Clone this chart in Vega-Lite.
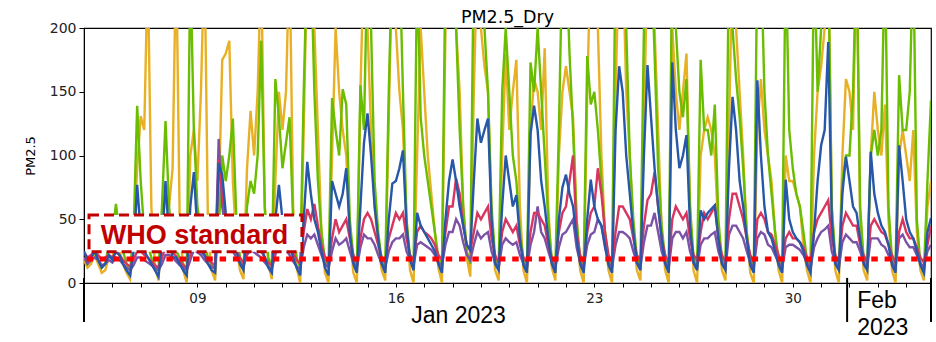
{
"$schema":"https://vega.github.io/schema/vega-lite/v6.json",
"width":847,"height":255,
"autosize":{"type":"none"},
"padding":{"left":84,"top":28,"right":5,"bottom":59},
"background":"white",
"config":{"view":{"stroke":"#000","strokeWidth":1.2}},
"title":{"text":"PM2.5_Dry","font":"DejaVu Sans","fontSize":17.5,"fontWeight":"normal","color":"#000","anchor":"middle","offset":6,"dy":11},
"datasets":{"pm":[
{"t":"2023-01-05T00:00","s1":18,"s2":20,"s3":20,"s4":24,"s5":25},
{"t":"2023-01-05T03:00","s1":12,"s2":15,"s3":15,"s4":20,"s5":18},
{"t":"2023-01-05T06:00","s1":15,"s2":18,"s3":18,"s4":22,"s5":20},
{"t":"2023-01-05T09:00","s1":22,"s2":25,"s3":20,"s4":25,"s5":25},
{"t":"2023-01-05T12:00","s1":15,"s2":18,"s3":18,"s4":22,"s5":18},
{"t":"2023-01-05T15:00","s1":8,"s2":12,"s3":14,"s4":18,"s5":12},
{"t":"2023-01-05T18:00","s1":10,"s2":15,"s3":15,"s4":20,"s5":15},
{"t":"2023-01-05T21:00","s1":20,"s2":30,"s3":18,"s4":22,"s5":22},
{"t":"2023-01-06T00:00","s1":20,"s2":35,"s3":16,"s4":20,"s5":18},
{"t":"2023-01-06T03:00","s1":30,"s2":62,"s3":20,"s4":24,"s5":25},
{"t":"2023-01-06T06:00","s1":25,"s2":40,"s3":18,"s4":22,"s5":22},
{"t":"2023-01-06T09:00","s1":15,"s2":25,"s3":15,"s4":18,"s5":15},
{"t":"2023-01-06T12:00","s1":8,"s2":15,"s3":12,"s4":15,"s5":10},
{"t":"2023-01-06T15:00","s1":3,"s2":10,"s3":10,"s4":13,"s5":6},
{"t":"2023-01-06T18:00","s1":30,"s2":40,"s3":14,"s4":18,"s5":25},
{"t":"2023-01-06T21:00","s1":90,"s2":139,"s3":20,"s4":25,"s5":77},
{"t":"2023-01-07T00:00","s1":131,"s2":80,"s3":20,"s4":25,"s5":40},
{"t":"2023-01-07T03:00","s1":120,"s2":40,"s3":18,"s4":22,"s5":25},
{"t":"2023-01-07T06:00","s1":250,"s2":30,"s3":16,"s4":20,"s5":20},
{"t":"2023-01-07T09:00","s1":60,"s2":20,"s3":14,"s4":17,"s5":15},
{"t":"2023-01-07T12:00","s1":15,"s2":12,"s3":12,"s4":14,"s5":10},
{"t":"2023-01-07T15:00","s1":2,"s2":10,"s3":10,"s4":12,"s5":5},
{"t":"2023-01-07T18:00","s1":40,"s2":60,"s3":15,"s4":20,"s5":30},
{"t":"2023-01-07T21:00","s1":70,"s2":127,"s3":22,"s4":28,"s5":80},
{"t":"2023-01-08T00:00","s1":60,"s2":60,"s3":22,"s4":27,"s5":35},
{"t":"2023-01-08T03:00","s1":90,"s2":30,"s3":20,"s4":24,"s5":20},
{"t":"2023-01-08T06:00","s1":260,"s2":25,"s3":17,"s4":21,"s5":20},
{"t":"2023-01-08T09:00","s1":50,"s2":20,"s3":14,"s4":17,"s5":15},
{"t":"2023-01-08T12:00","s1":10,"s2":15,"s3":12,"s4":14,"s5":10},
{"t":"2023-01-08T15:00","s1":0,"s2":10,"s3":10,"s4":12,"s5":6},
{"t":"2023-01-08T18:00","s1":100,"s2":250,"s3":18,"s4":22,"s5":60},
{"t":"2023-01-08T21:00","s1":120,"s2":120,"s3":26,"s4":32,"s5":87},
{"t":"2023-01-09T00:00","s1":80,"s2":60,"s3":24,"s4":30,"s5":40},
{"t":"2023-01-09T03:00","s1":150,"s2":40,"s3":22,"s4":26,"s5":25},
{"t":"2023-01-09T06:00","s1":260,"s2":30,"s3":18,"s4":22,"s5":22},
{"t":"2023-01-09T09:00","s1":40,"s2":20,"s3":15,"s4":18,"s5":15},
{"t":"2023-01-09T12:00","s1":10,"s2":15,"s3":13,"s4":16,"s5":10},
{"t":"2023-01-09T15:00","s1":2,"s2":12,"s3":11,"s4":14,"s5":8},
{"t":"2023-01-09T18:00","s1":60,"s2":40,"s3":113,"s4":97,"s5":94},
{"t":"2023-01-09T21:00","s1":175,"s2":100,"s3":60,"s4":70,"s5":85},
{"t":"2023-01-10T00:00","s1":180,"s2":80,"s3":40,"s4":50,"s5":55},
{"t":"2023-01-10T03:00","s1":190,"s2":100,"s3":30,"s4":40,"s5":40},
{"t":"2023-01-10T06:00","s1":80,"s2":129,"s3":25,"s4":32,"s5":35},
{"t":"2023-01-10T09:00","s1":30,"s2":50,"s3":20,"s4":25,"s5":25},
{"t":"2023-01-10T12:00","s1":10,"s2":20,"s3":16,"s4":20,"s5":15},
{"t":"2023-01-10T15:00","s1":3,"s2":12,"s3":13,"s4":16,"s5":10},
{"t":"2023-01-10T18:00","s1":90,"s2":60,"s3":22,"s4":26,"s5":40},
{"t":"2023-01-10T21:00","s1":135,"s2":80,"s3":26,"s4":32,"s5":50},
{"t":"2023-01-11T00:00","s1":100,"s2":70,"s3":24,"s4":30,"s5":40},
{"t":"2023-01-11T03:00","s1":150,"s2":100,"s3":22,"s4":27,"s5":30},
{"t":"2023-01-11T06:00","s1":250,"s2":190,"s3":20,"s4":25,"s5":28},
{"t":"2023-01-11T09:00","s1":60,"s2":60,"s3":16,"s4":20,"s5":20},
{"t":"2023-01-11T12:00","s1":15,"s2":20,"s3":13,"s4":16,"s5":12},
{"t":"2023-01-11T15:00","s1":3,"s2":12,"s3":11,"s4":14,"s5":8},
{"t":"2023-01-11T18:00","s1":80,"s2":160,"s3":22,"s4":30,"s5":50},
{"t":"2023-01-11T21:00","s1":150,"s2":130,"s3":30,"s4":40,"s5":77},
{"t":"2023-01-12T00:00","s1":120,"s2":90,"s3":28,"s4":38,"s5":50},
{"t":"2023-01-12T03:00","s1":150,"s2":110,"s3":26,"s4":34,"s5":35},
{"t":"2023-01-12T06:00","s1":260,"s2":130,"s3":22,"s4":30,"s5":30},
{"t":"2023-01-12T09:00","s1":60,"s2":50,"s3":17,"s4":24,"s5":20},
{"t":"2023-01-12T12:00","s1":12,"s2":20,"s3":13,"s4":18,"s5":12},
{"t":"2023-01-12T15:00","s1":0,"s2":12,"s3":11,"s4":15,"s5":6},
{"t":"2023-01-12T18:00","s1":120,"s2":150,"s3":28,"s4":40,"s5":50},
{"t":"2023-01-12T21:00","s1":260,"s2":260,"s3":38,"s4":58,"s5":95},
{"t":"2023-01-13T00:00","s1":260,"s2":260,"s3":35,"s4":50,"s5":70},
{"t":"2023-01-13T03:00","s1":200,"s2":150,"s3":38,"s4":62,"s5":50},
{"t":"2023-01-13T06:00","s1":120,"s2":80,"s3":30,"s4":45,"s5":40},
{"t":"2023-01-13T09:00","s1":40,"s2":40,"s3":22,"s4":30,"s5":25},
{"t":"2023-01-13T12:00","s1":8,"s2":18,"s3":15,"s4":20,"s5":12},
{"t":"2023-01-13T15:00","s1":0,"s2":12,"s3":12,"s4":15,"s5":6},
{"t":"2023-01-13T18:00","s1":100,"s2":145,"s3":25,"s4":35,"s5":80},
{"t":"2023-01-13T21:00","s1":200,"s2":120,"s3":35,"s4":50,"s5":70},
{"t":"2023-01-14T00:00","s1":150,"s2":100,"s3":30,"s4":40,"s5":60},
{"t":"2023-01-14T03:00","s1":120,"s2":152,"s3":32,"s4":45,"s5":70},
{"t":"2023-01-14T06:00","s1":100,"s2":140,"s3":35,"s4":50,"s5":90},
{"t":"2023-01-14T09:00","s1":40,"s2":50,"s3":25,"s4":35,"s5":40},
{"t":"2023-01-14T12:00","s1":8,"s2":20,"s3":16,"s4":22,"s5":15},
{"t":"2023-01-14T15:00","s1":0,"s2":12,"s3":12,"s4":16,"s5":8},
{"t":"2023-01-14T18:00","s1":150,"s2":155,"s3":28,"s4":35,"s5":60},
{"t":"2023-01-14T21:00","s1":260,"s2":120,"s3":38,"s4":50,"s5":110},
{"t":"2023-01-15T00:00","s1":200,"s2":260,"s3":35,"s4":55,"s5":133},
{"t":"2023-01-15T03:00","s1":120,"s2":200,"s3":35,"s4":50,"s5":100},
{"t":"2023-01-15T06:00","s1":60,"s2":80,"s3":30,"s4":40,"s5":60},
{"t":"2023-01-15T09:00","s1":30,"s2":40,"s3":22,"s4":30,"s5":35},
{"t":"2023-01-15T12:00","s1":10,"s2":18,"s3":15,"s4":20,"s5":15},
{"t":"2023-01-15T15:00","s1":2,"s2":12,"s3":12,"s4":16,"s5":8},
{"t":"2023-01-15T18:00","s1":130,"s2":150,"s3":25,"s4":35,"s5":50},
{"t":"2023-01-15T21:00","s1":260,"s2":260,"s3":32,"s4":45,"s5":78},
{"t":"2023-01-16T00:00","s1":200,"s2":260,"s3":35,"s4":55,"s5":80},
{"t":"2023-01-16T03:00","s1":150,"s2":260,"s3":35,"s4":50,"s5":90},
{"t":"2023-01-16T06:00","s1":120,"s2":150,"s3":38,"s4":55,"s5":104},
{"t":"2023-01-16T09:00","s1":50,"s2":50,"s3":25,"s4":35,"s5":45},
{"t":"2023-01-16T12:00","s1":10,"s2":20,"s3":18,"s4":22,"s5":18},
{"t":"2023-01-16T15:00","s1":0,"s2":12,"s3":14,"s4":18,"s5":10},
{"t":"2023-01-16T18:00","s1":100,"s2":250,"s3":30,"s4":40,"s5":55},
{"t":"2023-01-16T21:00","s1":200,"s2":130,"s3":32,"s4":45,"s5":45},
{"t":"2023-01-17T00:00","s1":150,"s2":100,"s3":30,"s4":40,"s5":40},
{"t":"2023-01-17T03:00","s1":100,"s2":80,"s3":28,"s4":38,"s5":35},
{"t":"2023-01-17T06:00","s1":70,"s2":60,"s3":26,"s4":35,"s5":30},
{"t":"2023-01-17T09:00","s1":40,"s2":40,"s3":22,"s4":30,"s5":25},
{"t":"2023-01-17T12:00","s1":12,"s2":20,"s3":16,"s4":22,"s5":15},
{"t":"2023-01-17T15:00","s1":0,"s2":12,"s3":14,"s4":18,"s5":8},
{"t":"2023-01-17T18:00","s1":200,"s2":250,"s3":30,"s4":40,"s5":50},
{"t":"2023-01-17T21:00","s1":260,"s2":260,"s3":40,"s4":60,"s5":80},
{"t":"2023-01-18T00:00","s1":260,"s2":260,"s3":40,"s4":60,"s5":97},
{"t":"2023-01-18T03:00","s1":200,"s2":200,"s3":50,"s4":82,"s5":80},
{"t":"2023-01-18T06:00","s1":150,"s2":120,"s3":45,"s4":70,"s5":60},
{"t":"2023-01-18T09:00","s1":60,"s2":60,"s3":32,"s4":45,"s5":45},
{"t":"2023-01-18T12:00","s1":20,"s2":25,"s3":22,"s4":30,"s5":30},
{"t":"2023-01-18T15:00","s1":5,"s2":15,"s3":18,"s4":25,"s5":26},
{"t":"2023-01-18T18:00","s1":150,"s2":260,"s3":30,"s4":40,"s5":80},
{"t":"2023-01-18T21:00","s1":260,"s2":260,"s3":40,"s4":55,"s5":129},
{"t":"2023-01-19T00:00","s1":200,"s2":260,"s3":35,"s4":50,"s5":110},
{"t":"2023-01-19T03:00","s1":170,"s2":200,"s3":38,"s4":55,"s5":120},
{"t":"2023-01-19T06:00","s1":150,"s2":150,"s3":40,"s4":60,"s5":129},
{"t":"2023-01-19T09:00","s1":50,"s2":60,"s3":25,"s4":35,"s5":50},
{"t":"2023-01-19T12:00","s1":10,"s2":20,"s3":16,"s4":22,"s5":15},
{"t":"2023-01-19T15:00","s1":2,"s2":12,"s3":12,"s4":16,"s5":10},
{"t":"2023-01-19T18:00","s1":100,"s2":150,"s3":30,"s4":40,"s5":60},
{"t":"2023-01-19T21:00","s1":180,"s2":200,"s3":35,"s4":50,"s5":100},
{"t":"2023-01-20T00:00","s1":120,"s2":150,"s3":32,"s4":45,"s5":80},
{"t":"2023-01-20T03:00","s1":150,"s2":100,"s3":30,"s4":40,"s5":60},
{"t":"2023-01-20T06:00","s1":175,"s2":80,"s3":32,"s4":45,"s5":69},
{"t":"2023-01-20T09:00","s1":60,"s2":40,"s3":22,"s4":30,"s5":35},
{"t":"2023-01-20T12:00","s1":10,"s2":18,"s3":15,"s4":20,"s5":14},
{"t":"2023-01-20T15:00","s1":0,"s2":12,"s3":12,"s4":16,"s5":8},
{"t":"2023-01-20T18:00","s1":120,"s2":173,"s3":30,"s4":40,"s5":117},
{"t":"2023-01-20T21:00","s1":160,"s2":150,"s3":40,"s4":55,"s5":139},
{"t":"2023-01-21T00:00","s1":150,"s2":200,"s3":60,"s4":55,"s5":120},
{"t":"2023-01-21T03:00","s1":120,"s2":150,"s3":40,"s4":50,"s5":80},
{"t":"2023-01-21T06:00","s1":184,"s2":100,"s3":35,"s4":45,"s5":60},
{"t":"2023-01-21T09:00","s1":60,"s2":50,"s3":25,"s4":30,"s5":35},
{"t":"2023-01-21T12:00","s1":12,"s2":18,"s3":16,"s4":20,"s5":15},
{"t":"2023-01-21T15:00","s1":2,"s2":12,"s3":12,"s4":16,"s5":8},
{"t":"2023-01-21T18:00","s1":100,"s2":120,"s3":28,"s4":40,"s5":50},
{"t":"2023-01-21T21:00","s1":150,"s2":260,"s3":38,"s4":55,"s5":75},
{"t":"2023-01-22T00:00","s1":170,"s2":260,"s3":40,"s4":60,"s5":85},
{"t":"2023-01-22T03:00","s1":150,"s2":180,"s3":45,"s4":80,"s5":70},
{"t":"2023-01-22T06:00","s1":130,"s2":120,"s3":50,"s4":100,"s5":60},
{"t":"2023-01-22T09:00","s1":50,"s2":50,"s3":28,"s4":40,"s5":35},
{"t":"2023-01-22T12:00","s1":10,"s2":18,"s3":16,"s4":22,"s5":15},
{"t":"2023-01-22T15:00","s1":0,"s2":12,"s3":12,"s4":16,"s5":8},
{"t":"2023-01-22T18:00","s1":150,"s2":178,"s3":30,"s4":40,"s5":50},
{"t":"2023-01-22T21:00","s1":260,"s2":140,"s3":38,"s4":55,"s5":81},
{"t":"2023-01-23T00:00","s1":260,"s2":150,"s3":40,"s4":60,"s5":60},
{"t":"2023-01-23T03:00","s1":200,"s2":120,"s3":50,"s4":90,"s5":50},
{"t":"2023-01-23T06:00","s1":100,"s2":80,"s3":45,"s4":70,"s5":45},
{"t":"2023-01-23T09:00","s1":40,"s2":40,"s3":28,"s4":40,"s5":30},
{"t":"2023-01-23T12:00","s1":10,"s2":18,"s3":16,"s4":22,"s5":14},
{"t":"2023-01-23T15:00","s1":0,"s2":12,"s3":12,"s4":16,"s5":8},
{"t":"2023-01-23T18:00","s1":150,"s2":260,"s3":30,"s4":40,"s5":120},
{"t":"2023-01-23T21:00","s1":260,"s2":260,"s3":40,"s4":60,"s5":170},
{"t":"2023-01-24T00:00","s1":260,"s2":260,"s3":40,"s4":60,"s5":150},
{"t":"2023-01-24T03:00","s1":150,"s2":200,"s3":38,"s4":55,"s5":100},
{"t":"2023-01-24T06:00","s1":100,"s2":100,"s3":35,"s4":50,"s5":70},
{"t":"2023-01-24T09:00","s1":40,"s2":50,"s3":25,"s4":35,"s5":40},
{"t":"2023-01-24T12:00","s1":10,"s2":20,"s3":16,"s4":22,"s5":16},
{"t":"2023-01-24T15:00","s1":2,"s2":12,"s3":12,"s4":18,"s5":10},
{"t":"2023-01-24T18:00","s1":120,"s2":200,"s3":32,"s4":45,"s5":100},
{"t":"2023-01-24T21:00","s1":260,"s2":260,"s3":45,"s4":65,"s5":171},
{"t":"2023-01-25T00:00","s1":260,"s2":260,"s3":45,"s4":70,"s5":130},
{"t":"2023-01-25T03:00","s1":200,"s2":180,"s3":55,"s4":87,"s5":90},
{"t":"2023-01-25T06:00","s1":120,"s2":90,"s3":40,"s4":60,"s5":60},
{"t":"2023-01-25T09:00","s1":40,"s2":45,"s3":25,"s4":35,"s5":35},
{"t":"2023-01-25T12:00","s1":10,"s2":18,"s3":16,"s4":22,"s5":15},
{"t":"2023-01-25T15:00","s1":0,"s2":12,"s3":12,"s4":16,"s5":8},
{"t":"2023-01-25T18:00","s1":200,"s2":260,"s3":35,"s4":50,"s5":173},
{"t":"2023-01-25T21:00","s1":150,"s2":200,"s3":40,"s4":60,"s5":120},
{"t":"2023-01-26T00:00","s1":120,"s2":150,"s3":40,"s4":55,"s5":90},
{"t":"2023-01-26T03:00","s1":150,"s2":130,"s3":35,"s4":50,"s5":100},
{"t":"2023-01-26T06:00","s1":180,"s2":160,"s3":40,"s4":55,"s5":116},
{"t":"2023-01-26T09:00","s1":60,"s2":60,"s3":25,"s4":35,"s5":45},
{"t":"2023-01-26T12:00","s1":10,"s2":20,"s3":16,"s4":22,"s5":16},
{"t":"2023-01-26T15:00","s1":0,"s2":12,"s3":12,"s4":18,"s5":10},
{"t":"2023-01-26T18:00","s1":100,"s2":175,"s3":30,"s4":40,"s5":57},
{"t":"2023-01-26T21:00","s1":120,"s2":120,"s3":35,"s4":55,"s5":50},
{"t":"2023-01-27T00:00","s1":130,"s2":120,"s3":35,"s4":50,"s5":55},
{"t":"2023-01-27T03:00","s1":120,"s2":100,"s3":38,"s4":55,"s5":58},
{"t":"2023-01-27T06:00","s1":100,"s2":140,"s3":40,"s4":60,"s5":61},
{"t":"2023-01-27T09:00","s1":40,"s2":50,"s3":25,"s4":35,"s5":35},
{"t":"2023-01-27T12:00","s1":10,"s2":18,"s3":16,"s4":22,"s5":15},
{"t":"2023-01-27T15:00","s1":2,"s2":12,"s3":12,"s4":16,"s5":10},
{"t":"2023-01-27T18:00","s1":120,"s2":260,"s3":38,"s4":50,"s5":90},
{"t":"2023-01-27T21:00","s1":260,"s2":200,"s3":45,"s4":70,"s5":146},
{"t":"2023-01-28T00:00","s1":200,"s2":160,"s3":45,"s4":70,"s5":120},
{"t":"2023-01-28T03:00","s1":150,"s2":130,"s3":40,"s4":60,"s5":80},
{"t":"2023-01-28T06:00","s1":100,"s2":90,"s3":35,"s4":50,"s5":60},
{"t":"2023-01-28T09:00","s1":40,"s2":40,"s3":25,"s4":35,"s5":35},
{"t":"2023-01-28T12:00","s1":8,"s2":18,"s3":16,"s4":22,"s5":14},
{"t":"2023-01-28T15:00","s1":0,"s2":12,"s3":12,"s4":16,"s5":8},
{"t":"2023-01-28T18:00","s1":120,"s2":260,"s3":35,"s4":50,"s5":159},
{"t":"2023-01-28T21:00","s1":160,"s2":260,"s3":40,"s4":55,"s5":100},
{"t":"2023-01-29T00:00","s1":120,"s2":150,"s3":38,"s4":50,"s5":60},
{"t":"2023-01-29T03:00","s1":100,"s2":100,"s3":30,"s4":40,"s5":40},
{"t":"2023-01-29T06:00","s1":80,"s2":70,"s3":28,"s4":38,"s5":35},
{"t":"2023-01-29T09:00","s1":40,"s2":40,"s3":22,"s4":30,"s5":25},
{"t":"2023-01-29T12:00","s1":10,"s2":18,"s3":16,"s4":22,"s5":14},
{"t":"2023-01-29T15:00","s1":0,"s2":12,"s3":12,"s4":16,"s5":8},
{"t":"2023-01-29T18:00","s1":100,"s2":260,"s3":28,"s4":35,"s5":81},
{"t":"2023-01-29T21:00","s1":80,"s2":120,"s3":30,"s4":40,"s5":50},
{"t":"2023-01-30T00:00","s1":80,"s2":90,"s3":30,"s4":35,"s5":40},
{"t":"2023-01-30T03:00","s1":70,"s2":70,"s3":28,"s4":35,"s5":35},
{"t":"2023-01-30T06:00","s1":60,"s2":60,"s3":26,"s4":32,"s5":32},
{"t":"2023-01-30T09:00","s1":30,"s2":40,"s3":22,"s4":28,"s5":25},
{"t":"2023-01-30T12:00","s1":10,"s2":18,"s3":16,"s4":20,"s5":14},
{"t":"2023-01-30T15:00","s1":0,"s2":12,"s3":12,"s4":16,"s5":8},
{"t":"2023-01-30T18:00","s1":100,"s2":260,"s3":28,"s4":40,"s5":40},
{"t":"2023-01-30T21:00","s1":150,"s2":150,"s3":35,"s4":50,"s5":80},
{"t":"2023-01-31T00:00","s1":170,"s2":200,"s3":40,"s4":55,"s5":108},
{"t":"2023-01-31T03:00","s1":200,"s2":260,"s3":42,"s4":60,"s5":120},
{"t":"2023-01-31T06:00","s1":260,"s2":260,"s3":45,"s4":65,"s5":189},
{"t":"2023-01-31T09:00","s1":60,"s2":60,"s3":25,"s4":35,"s5":50},
{"t":"2023-01-31T12:00","s1":10,"s2":20,"s3":16,"s4":22,"s5":15},
{"t":"2023-01-31T15:00","s1":0,"s2":12,"s3":12,"s4":16,"s5":10},
{"t":"2023-01-31T18:00","s1":100,"s2":80,"s3":32,"s4":45,"s5":70},
{"t":"2023-01-31T21:00","s1":160,"s2":100,"s3":38,"s4":55,"s5":99},
{"t":"2023-02-01T00:00","s1":150,"s2":100,"s3":35,"s4":50,"s5":80},
{"t":"2023-02-01T03:00","s1":120,"s2":150,"s3":32,"s4":45,"s5":60},
{"t":"2023-02-01T06:00","s1":260,"s2":260,"s3":32,"s4":45,"s5":55},
{"t":"2023-02-01T09:00","s1":50,"s2":60,"s3":25,"s4":30,"s5":35},
{"t":"2023-02-01T12:00","s1":10,"s2":18,"s3":16,"s4":22,"s5":15},
{"t":"2023-02-01T15:00","s1":2,"s2":12,"s3":12,"s4":16,"s5":10},
{"t":"2023-02-01T18:00","s1":100,"s2":100,"s3":35,"s4":45,"s5":103},
{"t":"2023-02-01T21:00","s1":150,"s2":120,"s3":35,"s4":50,"s5":70},
{"t":"2023-02-02T00:00","s1":120,"s2":100,"s3":35,"s4":45,"s5":55},
{"t":"2023-02-02T03:00","s1":100,"s2":120,"s3":30,"s4":40,"s5":45},
{"t":"2023-02-02T06:00","s1":140,"s2":260,"s3":28,"s4":38,"s5":40},
{"t":"2023-02-02T09:00","s1":50,"s2":60,"s3":22,"s4":30,"s5":30},
{"t":"2023-02-02T12:00","s1":10,"s2":18,"s3":16,"s4":22,"s5":14},
{"t":"2023-02-02T15:00","s1":0,"s2":12,"s3":12,"s4":16,"s5":8},
{"t":"2023-02-02T18:00","s1":100,"s2":163,"s3":35,"s4":40,"s5":108},
{"t":"2023-02-02T21:00","s1":120,"s2":120,"s3":38,"s4":50,"s5":80},
{"t":"2023-02-03T00:00","s1":100,"s2":120,"s3":32,"s4":40,"s5":50},
{"t":"2023-02-03T03:00","s1":80,"s2":150,"s3":28,"s4":35,"s5":40},
{"t":"2023-02-03T06:00","s1":120,"s2":260,"s3":28,"s4":35,"s5":35},
{"t":"2023-02-03T09:00","s1":40,"s2":50,"s3":22,"s4":28,"s5":25},
{"t":"2023-02-03T12:00","s1":10,"s2":15,"s3":16,"s4":20,"s5":14},
{"t":"2023-02-03T15:00","s1":2,"s2":8,"s3":12,"s4":16,"s5":8},
{"t":"2023-02-03T18:00","s1":60,"s2":80,"s3":25,"s4":30,"s5":40},
{"t":"2023-02-03T21:00","s1":80,"s2":143,"s3":30,"s4":45,"s5":51}
]},
"layer":[
{"data":{"name":"pm"},
 "transform":[{"fold":["s1","s2","s3","s4","s5"],"as":["series","value"]}],
 "mark":{"type":"line","strokeWidth":2.4,"clip":true},
 "encoding":{
  "x":{"field":"t","type":"temporal",
   "scale":{"domain":[{"year":2023,"month":"jan","date":5,"hours":0},{"year":2023,"month":"feb","date":3,"hours":21}]},
   "axis":{"title":null,"grid":false,"tickCount":{"interval":"day","step":1},"labelExpr":"day(datum.value)==1 ? timeFormat(datum.value,'%d') : ''","labelOverlap":false,"labelFont":"DejaVu Sans","labelFontSize":13.5,"labelColor":"#222","tickColor":"#000","tickSize":4,"domainColor":"#000","labelPadding":4,"labelFlush":false}},
  "y":{"field":"value","type":"quantitative",
   "scale":{"domain":[0,200],"nice":false},
   "axis":{"title":"PM2.5","values":[0,25,50,75,100,125,150,175,200],"grid":false,"labelFont":"DejaVu Sans","labelFontSize":14,"labelColor":"#222","tickColor":"#000","tickSize":5,"domainColor":"#000","labelPadding":3,"titleFont":"DejaVu Sans","titleFontSize":13,"titleFontWeight":"normal","titleColor":"#000","titlePadding":12}},
  "color":{"field":"series","type":"nominal","scale":{"domain":["s1","s2","s3","s4","s5"],"range":["#E8B025","#6ABD00","#7B52A6","#D8355F","#2657A8"]},"legend":null}
 }},
{"data":{"values":[{"who":18.75}]},
 "mark":{"type":"rule","color":"#FF0000","strokeWidth":5,"strokeDash":[6.5,6.8]},
 "encoding":{"y":{"field":"who","type":"quantitative"}}},
{"data":{"values":[{"x1":"2023-01-05T04:15","x2":"2023-01-12T16:30","y1":24.5,"y2":53.3}]},
 "mark":{"type":"rect","fill":"white","stroke":"#C00000","strokeWidth":3,"strokeDash":[10,5],"clip":false},
 "encoding":{"x":{"field":"x1","type":"temporal"},"x2":{"field":"x2"},"y":{"field":"y1","type":"quantitative"},"y2":{"field":"y2"}}},
{"data":{"values":[{"label":"WHO standard","t":"2023-01-08T21:30","v":30.6}]},
 "mark":{"type":"text","font":"Liberation Sans","fontWeight":"bold","fontSize":27,"color":"#C00000","baseline":"alphabetic","align":"center","clip":false},
 "encoding":{"x":{"field":"t","type":"temporal"},"y":{"field":"v","type":"quantitative"},"text":{"field":"label"}}},
{"data":{"values":[{"t":"2023-01-05T00:00"},{"t":"2023-01-31T22:00"},{"t":"2023-02-03T21:00"}]},
 "mark":{"type":"rule","color":"#000","strokeWidth":2,"clip":false},
 "encoding":{"x":{"field":"t","type":"temporal"},"y":{"datum":4},"y2":{"datum":-30.6}}},
{"data":{"values":[{"label":"Jan 2023","t":"2023-01-16T13:00","v":-31.4},{"label":"Feb","t":"2023-02-01T06:30","v":-19.6},{"label":"2023","t":"2023-02-01T06:30","v":-40.8}]},
 "mark":{"type":"text","font":"Liberation Sans","fontSize":23,"color":"#000","baseline":"alphabetic","align":"left","clip":false},
 "encoding":{"x":{"field":"t","type":"temporal"},"y":{"field":"v","type":"quantitative"},"text":{"field":"label"}}}
]
}
